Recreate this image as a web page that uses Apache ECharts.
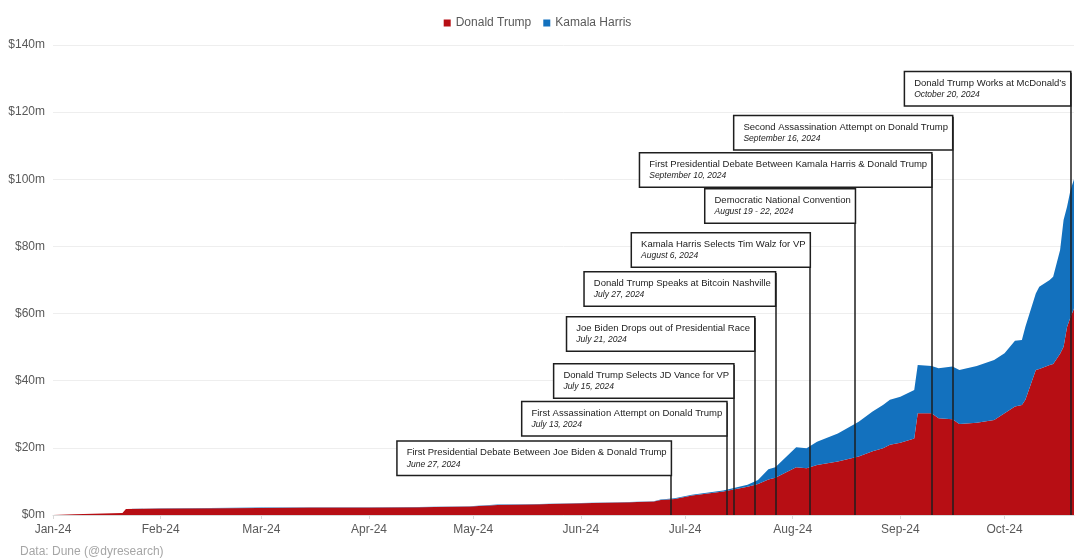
<!DOCTYPE html>
<html>
<head>
    <meta charset='utf-8'>
    <script src="https://cdn.jsdelivr.net/npm/echarts@6/dist/echarts.min.js"></script>
</head>
<body>
<style>
    html, body, #main {
        width: 100%;
        height: 100%;
        margin: 0;
        padding: 0;
        background: #fff;
    }
</style>
<div id="main"></div>
<script>
    // cumulative money raised, $m
    var dates = ['2024-01-01', '2024-01-07', '2024-01-21', '2024-01-22', '2024-02-01', '2024-02-15',
        '2024-03-01', '2024-03-15', '2024-04-01', '2024-04-15', '2024-04-30', '2024-05-08', '2024-05-20',
        '2024-06-01', '2024-06-15', '2024-06-22', '2024-06-24', '2024-06-28', '2024-07-03', '2024-07-12',
        '2024-07-19', '2024-07-22', '2024-07-25', '2024-07-27', '2024-08-02', '2024-08-05', '2024-08-08',
        '2024-08-14', '2024-08-20', '2024-08-24', '2024-08-27', '2024-08-29', '2024-09-01', '2024-09-05',
        '2024-09-06', '2024-09-10', '2024-09-12', '2024-09-16', '2024-09-18', '2024-09-23', '2024-09-28',
        '2024-10-01', '2024-10-04', '2024-10-06', '2024-10-07', '2024-10-10', '2024-10-11', '2024-10-14',
        '2024-10-15', '2024-10-17', '2024-10-18', '2024-10-19', '2024-10-20', '2024-10-21'];

    var trump = [0, 0.2, 0.6, 1.8, 1.9, 2.0, 2.1, 2.2, 2.2, 2.3, 2.5, 3.0, 3.2, 3.5, 3.8, 4.0, 4.5, 4.8,
        5.8, 7.0, 8.4, 9.2, 10.6, 11.1, 14.2, 13.9, 14.9, 15.9, 17.4, 19.0, 19.9, 20.9, 21.5, 22.8,
        30.3, 30.3, 28.8, 28.5, 27.1, 27.5, 28.3, 30.3, 32.3, 32.8, 34.3, 43.2, 43.5, 44.7, 45.0, 48.0,
        50.1, 56.0, 59.0, 61.5];

    var harris = [0, 0, 0, 0, 0.1, 0.1, 0.1, 0.1, 0.1, 0.1, 0.1, 0.1, 0.1, 0.1, 0.1, 0.1, 0.1, 0.2,
        0.2, 0.3, 0.6, 1.2, 3.0, 3.1, 6.0, 6.0, 6.9, 8.4, 10.4, 11.8, 12.9, 13.4, 13.7, 14.4,
        14.4, 14.1, 14.9, 15.7, 16.1, 16.9, 17.9, 17.9, 19.6, 19.3, 21.8, 22.8, 24.5, 25.3, 26.0, 30.9,
        37.8, 35.8, 37.8, 38.5];

    var eventTitles = [
        'First Presidential Debate Between Joe Biden & Donald Trump',
        'First Assassination Attempt on Donald Trump',
        'Donald Trump Selects JD Vance for VP',
        'Joe Biden Drops out of Presidential Race',
        'Donald Trump Speaks at Bitcoin Nashville',
        'Kamala Harris Selects Tim Walz for VP',
        'Democratic National Convention',
        'First Presidential Debate Between Kamala Harris & Donald Trump',
        'Second Assassination Attempt on Donald Trump',
        'Donald Trump Works at McDonald\u2019s'
    ];
    var eventDateText = ['June 27, 2024', 'July 13, 2024', 'July 15, 2024', 'July 21, 2024',
        'July 27, 2024', 'August 6, 2024', 'August 19 - 22, 2024', 'September 10, 2024',
        'September 16, 2024', 'October 20, 2024'];
    var eventDays = ['2024-06-27', '2024-07-13', '2024-07-15', '2024-07-21', '2024-07-27',
        '2024-08-06', '2024-08-19', '2024-09-10', '2024-09-16', '2024-10-20'];

    // height (in $m) where each callout box sits
    var boxLevels = [21.7, 33.4, 44.7, 58.7, 72.1, 83.7, 96.8, 107.5, 118.6, 131.7];

    var monthNames = ['Jan', 'Feb', 'Mar', 'Apr', 'May', 'Jun', 'Jul', 'Aug', 'Sep', 'Oct', 'Nov', 'Dec'];
    var font = "'Liberation Sans', Arial, sans-serif";

    var chart = echarts.init(document.getElementById('main'));

    var trumpData = dates.map(function (d, i) { return [d, trump[i]]; });
    var harrisData = dates.map(function (d, i) { return [d, harris[i]]; });

    var lines = eventDays.map(function (d, i) {
        return [{coord: [d, boxLevels[i]]}, {coord: [d, 0]}];
    });
    var boxes = eventDays.map(function (d, i) {
        return {coord: [d, boxLevels[i]]};
    });

    chart.setOption({
        animation: false,
        textStyle: {fontFamily: font},
        legend: {
            top: 12,
            left: 'center',
            icon: 'rect',
            itemWidth: 7,
            itemHeight: 7,
            itemGap: 12,
            data: ['Donald Trump', 'Kamala Harris'],
            textStyle: {fontSize: 12, color: '#595959', fontFamily: font}
        },
        grid: {left: 53, right: 1, top: 45, bottom: 43},
        xAxis: {
            type: 'time',
            min: '2024-01-01',
            max: '2024-10-21',
            minInterval: 28 * 86400000,
            maxInterval: 31 * 86400000,
            axisLine: {lineStyle: {color: '#d9d9d9'}},
            axisTick: {show: true, length: 4, lineStyle: {color: '#d9d9d9'}},
            splitLine: {show: false},
            axisLabel: {
                color: '#595959',
                fontSize: 12,
                fontFamily: font,
                margin: 9,
                showMaxLabel: false,
                formatter: function (val) {
                    var d = new Date(val);
                    return monthNames[d.getMonth()] + '-' + String(d.getFullYear()).slice(2);
                }
            }
        },
        yAxis: {
            type: 'value',
            min: 0,
            max: 140,
            interval: 20,
            axisLine: {show: false},
            axisTick: {show: false},
            splitLine: {lineStyle: {color: '#eeeeee'}},
            axisLabel: {
                color: '#595959',
                fontSize: 12,
                fontFamily: font,
                margin: 8,
                formatter: '${value}m'
            }
        },
        series: [{
            name: 'Donald Trump',
            type: 'line',
            stack: 'total',
            data: trumpData,
            symbol: 'none',
            color: '#b70e14',
            lineStyle: {width: 0},
            areaStyle: {opacity: 1, color: '#b70e14'},
            markLine: {
                silent: true,
                symbol: ['none', 'none'],
                label: {show: false},
                lineStyle: {color: '#1e1e1e', width: 1.5, type: 'solid'},
                data: lines
            },
            markPoint: {
                silent: true,
                symbol: 'rect',
                symbolSize: 1,
                itemStyle: {color: 'rgba(0,0,0,0)'},
                label: {
                    show: true,
                    position: [0, 0],
                    align: 'right',
                    verticalAlign: 'top',
                    backgroundColor: '#fff',
                    borderColor: '#1e1e1e',
                    borderWidth: 1.5,
                    padding: [5, 4, 5, 9],
                    formatter: function (p) {
                        return '{t|' + eventTitles[p.dataIndex] + '}\n{d|' + eventDateText[p.dataIndex] + '}';
                    },
                    rich: {
                        t: {fontSize: 9.5, lineHeight: 12, color: '#222', align: 'left', fontFamily: font},
                        d: {fontSize: 8.5, lineHeight: 11, color: '#222', align: 'left',
                            fontStyle: 'italic', fontFamily: font}
                    }
                },
                data: boxes
            }
        }, {
            name: 'Kamala Harris',
            type: 'line',
            stack: 'total',
            data: harrisData,
            symbol: 'none',
            color: '#1371be',
            lineStyle: {width: 0},
            areaStyle: {opacity: 1, color: '#1371be'}
        }],
        graphic: [{
            type: 'text',
            left: 20,
            top: 546,
            style: {text: 'Data: Dune (@dyresearch)', fill: '#a6a6a6', fontSize: 12, fontFamily: font}
        }]
    });
</script>
</body>
</html>
